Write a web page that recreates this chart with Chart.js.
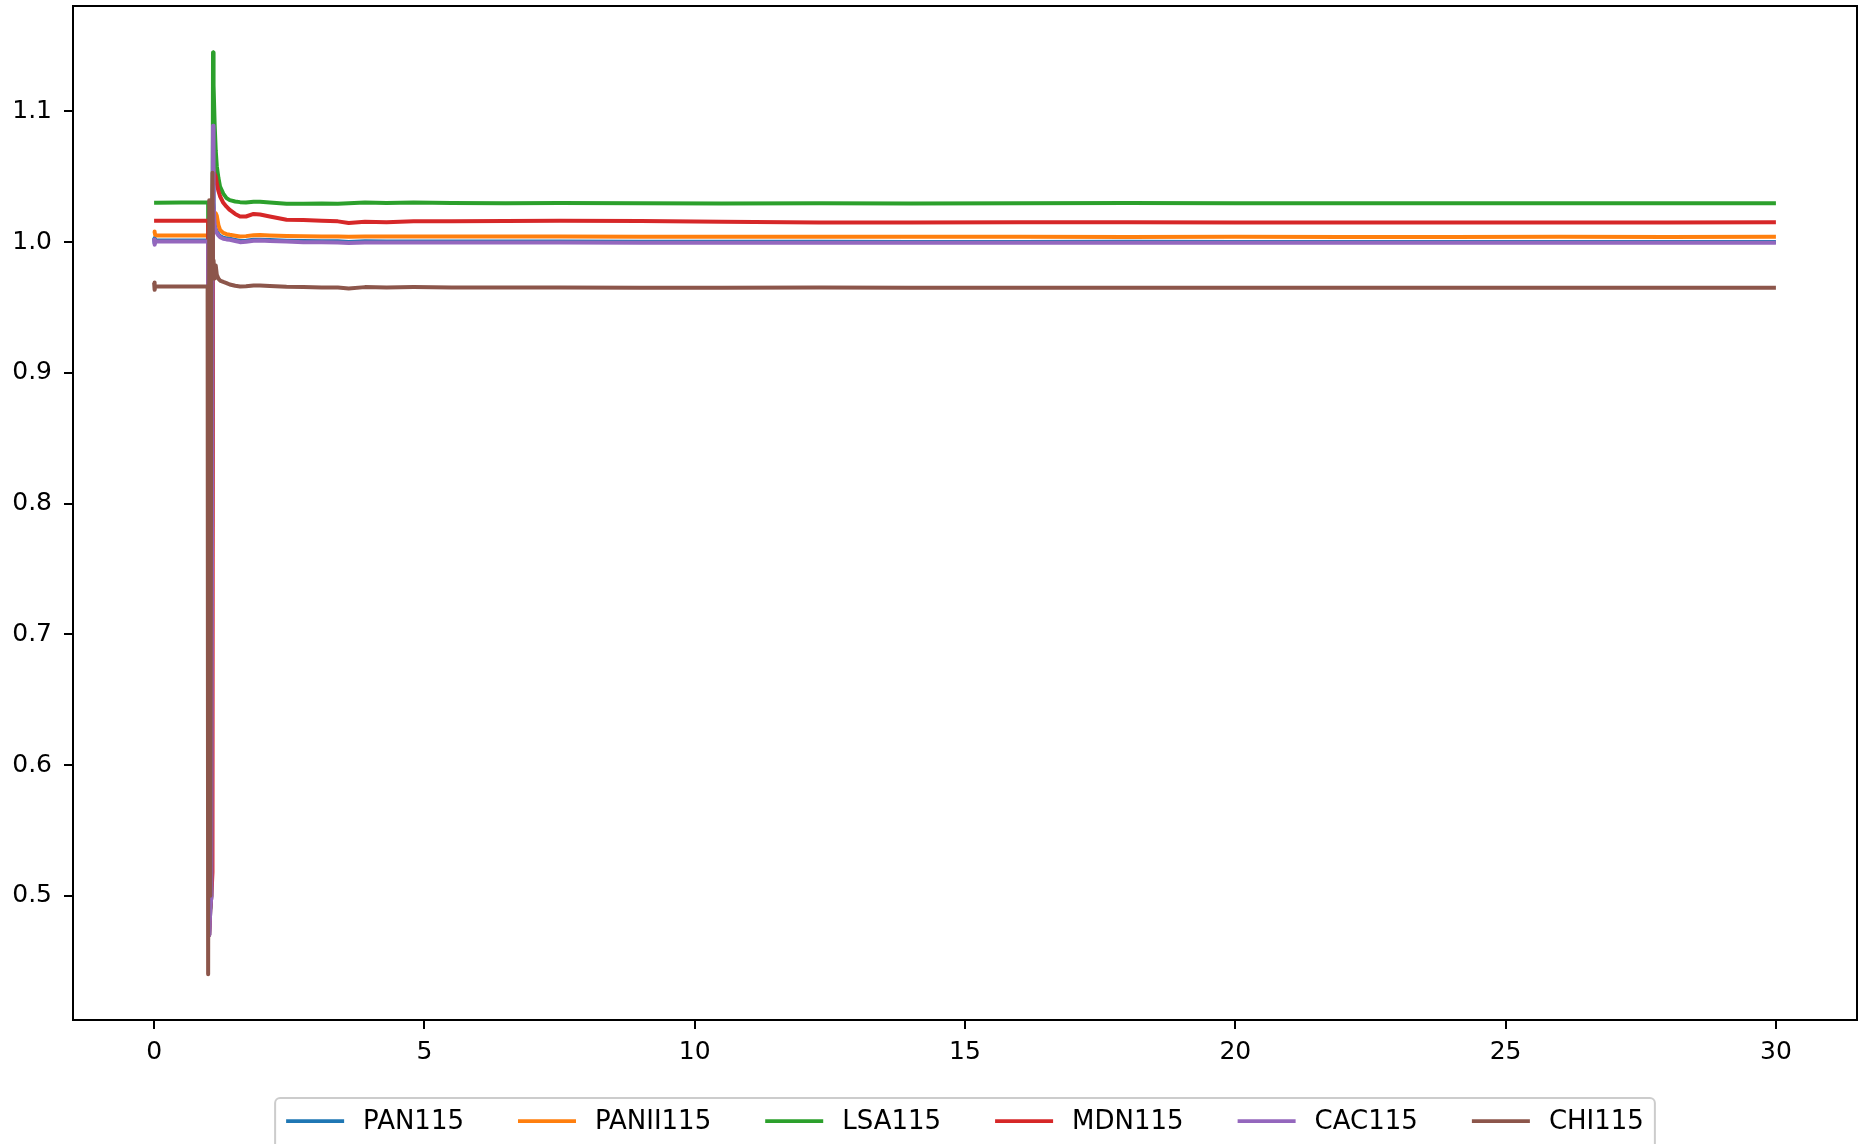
<!DOCTYPE html>
<html>
<head>
<meta charset="utf-8">
<script src="https://cdn.jsdelivr.net/npm/chart.js@4"></script>
<style>
  body { margin: 0; background: #fff; }
  canvas { display: block; }
</style>
</head>
<body>
<canvas id="voltageChart" width="1859" height="1144"></canvas>
<script>
// time axis (s), dense around the fault at t = 1 s
const time = [0, 0.01, 0.02, 0.05, 0.5, 0.99, 1.0, 1.02, 1.04, 1.06,
  1.08, 1.09, 1.1, 1.12, 1.14, 1.16, 1.19, 1.22, 1.28, 1.34,
  1.4, 1.5, 1.59, 1.7, 1.84, 1.96, 2.14, 2.45, 2.76, 3.1,
  3.4, 3.6, 3.9, 4.3, 4.8, 5.5, 6.5, 7.5, 9, 10.5,
  12.3, 14, 16, 18, 20, 22, 24, 26, 28, 30];

// bus voltages (p.u.)
const pan115 = [1.003, 0.999, 1.001, 1.0011, 1.0011, 1.0011, 1.0011, 0.47, 0.49, 0.50,
  0.95, 1.085, 1.03, 1.013, 1.010, 1.008, 1.006, 1.0045, 1.0033, 1.0028,
  1.0025, 1.0016, 1.0008, 1.0010, 1.0017, 1.0018, 1.0015, 1.0010, 1.0007, 1.0006,
  1.0005, 1.0001, 1.0005, 1.0004, 1.0004, 1.0003, 1.0003, 1.0003, 1.0002, 1.0002,
  1.0002, 1.0001, 1.0001, 1.0002, 1.0001, 1.0001, 1.0001, 1.0001, 1.0001, 1.0001];

const panii115 = [1.008, 1.0075, 1.0055, 1.005, 1.005, 1.005, 1.005, 0.48, 0.50, 0.52,
  0.95, 1.020, 1.023, 1.022, 1.022, 1.020, 1.013, 1.0093, 1.007, 1.006,
  1.0055, 1.0048, 1.0042, 1.0045, 1.0052, 1.0053, 1.0050, 1.0046, 1.0044, 1.0043,
  1.0042, 1.0040, 1.0043, 1.0042, 1.0043, 1.0042, 1.0042, 1.0042, 1.0041, 1.0040,
  1.0040, 1.0040, 1.0040, 1.0039, 1.0040, 1.0039, 1.0039, 1.0040, 1.0039, 1.0040];

const lsa115 = [1.030, 1.030, 1.030, 1.030, 1.0302, 1.0302, 1.030, 0.50, 0.49, 0.51,
  0.96, 1.145, 1.12, 1.09, 1.07, 1.058, 1.049, 1.0424, 1.037, 1.0336,
  1.032, 1.031, 1.0305, 1.0303, 1.0308, 1.0307, 1.0302, 1.0293, 1.0292, 1.0294,
  1.0293, 1.0296, 1.0302, 1.0299, 1.0302, 1.0298, 1.0296, 1.0298, 1.0297, 1.0295,
  1.0296, 1.0295, 1.0297, 1.0298, 1.0296, 1.0297, 1.0296, 1.0296, 1.0297, 1.0297];

const mdn115 = [1.0162, 1.0162, 1.0162, 1.0162, 1.0162, 1.0162, 1.0162, 0.47, 0.49, 0.50,
  0.518, 1.055, 1.054, 1.052, 1.050, 1.045, 1.039, 1.035, 1.030, 1.027,
  1.0245, 1.0215, 1.0195, 1.0195, 1.0215, 1.021, 1.0195, 1.017, 1.0168, 1.0163,
  1.0158, 1.0145, 1.0155, 1.0152, 1.0158, 1.0158, 1.0160, 1.0162, 1.0160, 1.0155,
  1.0150, 1.0150, 1.0151, 1.0152, 1.0150, 1.0150, 1.0150, 1.0150, 1.0150, 1.0152];

const cac115 = [1.002, 0.998, 1.000, 1.0004, 1.0004, 1.0004, 1.0004, 0.47, 0.49, 0.50,
  0.95, 1.089, 1.03, 1.012, 1.009, 1.007, 1.005, 1.0037, 1.0025, 1.0020,
  1.0017, 1.0008, 0.9999, 1.0002, 1.0010, 1.0011, 1.0007, 1.0003, 0.9999, 0.9998,
  0.9997, 0.9993, 0.9997, 0.9996, 0.9997, 0.9996, 0.9996, 0.9996, 0.9995, 0.9995,
  0.9995, 0.9994, 0.9994, 0.9995, 0.9994, 0.9994, 0.9994, 0.9994, 0.9994, 0.9994];

const chi115 = [0.969, 0.9635, 0.9655, 0.966, 0.966, 0.966, 0.44, 1.032, 0.50, 0.98,
  1.053, 0.975, 0.986, 0.972, 0.982, 0.975, 0.972, 0.9705, 0.9695, 0.9686,
  0.9675, 0.9665, 0.966, 0.9662, 0.9667, 0.9667, 0.9663, 0.9657, 0.9655, 0.9653,
  0.9652, 0.9645, 0.9655, 0.9652, 0.9655, 0.9653, 0.9652, 0.9652, 0.9650, 0.9650,
  0.9652, 0.9651, 0.9650, 0.9650, 0.9651, 0.9650, 0.9650, 0.9651, 0.9650, 0.9650];

const seriesNames = ['PAN115', 'PANII115', 'LSA115', 'MDN115', 'CAC115', 'CHI115'];
const seriesValues = [pan115, panii115, lsa115, mdn115, cac115, chi115];
const seriesColors = ['#1f77b4', '#ff7f0e', '#2ca02c', '#d62728', '#9467bd', '#8c564b'];

const xTicks = [0, 5, 10, 15, 20, 25, 30];
const yTicks = [0.5, 0.6, 0.7, 0.8, 0.9, 1.0, 1.1];

const FONT = 'DejaVu Sans';

// frame round the plot + matplotlib-style legend under it
const frameAndLegend = {
  id: 'frameAndLegend',
  afterDraw(chart) {
    const ctx = chart.ctx;
    const a = chart.chartArea;
    ctx.save();
    ctx.strokeStyle = '#000';
    ctx.lineWidth = 2;
    ctx.strokeRect(a.left, a.top, a.right - a.left, a.bottom - a.top);

    ctx.font = '26px "' + FONT + '"';
    ctx.textBaseline = 'middle';
    const handle = 58, gap = 19, colSpace = 54, pad = 11;
    const widths = seriesNames.map(n => ctx.measureText(n).width);
    let total = 0;
    widths.forEach((w, i) => { total += handle + gap + w + (i > 0 ? colSpace : 0); });
    const cx = (a.left + a.right) / 2;
    const boxLeft = cx - total / 2 - pad;
    const boxTop = 1098;
    const boxW = total + pad * 2;

    ctx.fillStyle = 'rgba(255,255,255,0.8)';
    ctx.strokeStyle = '#cccccc';
    ctx.lineWidth = 2;
    ctx.beginPath();
    ctx.roundRect(boxLeft, boxTop, boxW, 80, 5);
    ctx.fill();
    ctx.stroke();

    const y = 1121;
    let x = boxLeft + pad;
    seriesNames.forEach((n, i) => {
      ctx.strokeStyle = seriesColors[i];
      ctx.lineWidth = 3.75;
      ctx.beginPath();
      ctx.moveTo(x, y);
      ctx.lineTo(x + handle, y);
      ctx.stroke();
      ctx.fillStyle = '#000';
      ctx.fillText(n, x + handle + gap, y + 1);
      x += handle + gap + widths[i] + colSpace;
    });
    ctx.restore();
  }
};

const datasets = seriesNames.map((name, i) => ({
  label: name,
  data: time.map((t, k) => ({ x: t, y: seriesValues[i][k] })),
  borderColor: seriesColors[i],
  borderWidth: 4,
  pointRadius: 0,
  tension: 0,
  fill: false,
  borderJoinStyle: 'round',
  order: seriesNames.length - 1 - i
}));

const voltageChart = new Chart(document.getElementById('voltageChart').getContext('2d'), {
  type: 'line',
  data: { datasets: datasets },
  options: {
    responsive: false,
    animation: false,
    layout: { padding: { top: 6, right: 2, bottom: 80, left: 0 } },
    plugins: {
      legend: { display: false },
      tooltip: { enabled: false }
    },
    scales: {
      x: {
        type: 'linear',
        min: -1.5,
        max: 31.5,
        afterBuildTicks: (axis) => { axis.ticks = xTicks.map(v => ({ value: v })); },
        afterFit: (axis) => { axis.height = 44; axis.paddingLeft = 0; axis.paddingRight = 0; },
        border: { display: false },
        grid: { drawOnChartArea: false, drawTicks: true, tickLength: 9, color: '#000', lineWidth: 2 },
        ticks: {
          color: '#000',
          padding: 8,
          maxRotation: 0,
          font: { family: FONT, size: 25 },
          callback: (v) => String(v)
        }
      },
      y: {
        type: 'linear',
        min: 0.405,
        max: 1.1805,
        afterBuildTicks: (axis) => { axis.ticks = yTicks.map(v => ({ value: v })); },
        afterFit: (axis) => { axis.width = 73; axis.paddingTop = 0; axis.paddingBottom = 0; },
        border: { display: false },
        grid: { drawOnChartArea: false, drawTicks: true, tickLength: 9, color: '#000', lineWidth: 2 },
        ticks: {
          color: '#000',
          padding: 12,
          font: { family: FONT, size: 25 },
          callback: (v) => v.toFixed(1)
        }
      }
    }
  },
  plugins: [frameAndLegend]
});
</script>
</body>
</html>
